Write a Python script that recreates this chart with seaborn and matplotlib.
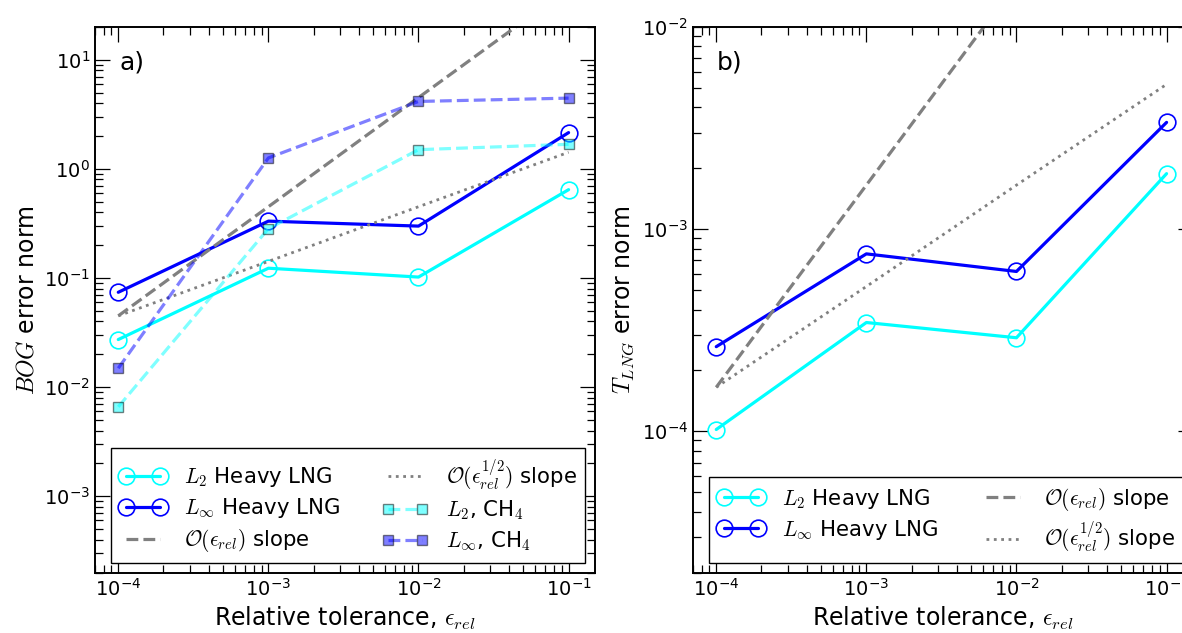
import matplotlib
matplotlib.use("Agg")
import matplotlib.pyplot as plt
import seaborn as sns
from matplotlib.ticker import FuncFormatter, LogLocator, NullFormatter
import numpy as np

# Relative tolerance values used in the convergence study
tolerance = [1e-4, 1e-3, 1e-2, 1e-1]

# Boil-off gas (BOG) error norms
bog_l2_heavy = [0.0273, 0.123, 0.102, 0.645]
bog_linf_heavy = [0.074, 0.332, 0.299, 2.15]
bog_l2_ch4 = [0.0066, 0.283, 1.50, 1.68]
bog_linf_ch4 = [0.0149, 1.26, 4.15, 4.45]
bog_slope_1 = [0.045, 0.45, 4.5, 45.0]
bog_slope_half = [0.045, 0.142, 0.45, 1.42]

# LNG temperature error norms
tlng_l2_heavy = [1.02e-4, 3.45e-4, 2.90e-4, 1.88e-3]
tlng_linf_heavy = [2.62e-4, 7.54e-4, 6.17e-4, 3.37e-3]
tlng_slope_1 = [1.65e-4, 1.65e-3, 1.65e-2, 1.65e-1]
tlng_slope_half = [1.65e-4, 5.2e-4, 1.65e-3, 5.2e-3]

sns.set_theme(style="ticks")
plt.rcParams.update({
    "font.family": ["DejaVu Sans"],
    "mathtext.fontset": "cm",
    "axes.edgecolor": "black",
    "axes.labelcolor": "black",
    "axes.linewidth": 1.4,
    "text.color": "black",
    "xtick.color": "black",
    "ytick.color": "black",
    "xtick.direction": "in",
    "ytick.direction": "in",
    "xtick.top": True,
    "ytick.right": True,
    "xtick.major.size": 10.5,
    "ytick.major.size": 10.5,
    "xtick.minor.size": 5.5,
    "ytick.minor.size": 5.5,
    "xtick.major.width": 0.9,
    "ytick.major.width": 0.9,
    "xtick.minor.width": 0.9,
    "ytick.minor.width": 0.9,
    "xtick.minor.visible": True,
    "ytick.minor.visible": True,
    "xtick.labelsize": 14,
    "ytick.labelsize": 14,
    "axes.labelsize": 17,
    "legend.fontsize": 15.3,
    "legend.fancybox": False,
    "legend.edgecolor": "black",
    "legend.framealpha": 1.0,
    "legend.numpoints": 2,
    "legend.labelspacing": 0.33,
    "legend.handlelength": 2.2,
    "axes.grid": False,
})

fig = plt.figure(figsize=(11.82, 6.33), dpi=100)
ax_a = fig.add_axes([0.0804, 0.0955, 0.423, 0.862])
ax_b = fig.add_axes([0.5863, 0.0955, 0.423, 0.862])


def pow10(v, pos):
    if v <= 0:
        return ""
    e = int(np.round(np.log10(v)))
    return r"$\mathregular{10^{%d}}$" % e


def draw(ax, y, **kw):
    sns.lineplot(x=tolerance, y=y, ax=ax, estimator=None, sort=False, **kw)


heavy_style = dict(lw=2.3, marker="o", ms=12, mfc="none", mew=1.2)
ch4_style = dict(lw=2.3, linestyle="--", marker="s", ms=7.5, mec="black",
                 mew=1.0, alpha=0.5)

for ax in (ax_a, ax_b):
    ax.set_xscale("log")
    ax.set_yscale("log")

# Panel a: BOG
draw(ax_a, bog_l2_heavy, color="cyan", mec="cyan", label=r"$L_2$ Heavy LNG", **heavy_style)
draw(ax_a, bog_linf_heavy, color="blue", mec="blue", label=r"$L_\infty$ Heavy LNG", **heavy_style)
draw(ax_a, bog_slope_1, color="gray", lw=2.3, linestyle="--",
     label=r"$\mathcal{O}(\epsilon_{rel})$ slope")
draw(ax_a, bog_slope_half, color="gray", lw=2.0, linestyle=":",
     label=r"$\mathcal{O}(\epsilon_{rel}^{1/2})$ slope")
draw(ax_a, bog_l2_ch4, color="cyan", mfc="cyan", label=r"$L_2$, CH$_4$", **ch4_style)
draw(ax_a, bog_linf_ch4, color="blue", mfc="blue", label=r"$L_\infty$, CH$_4$", **ch4_style)

ax_a.set_xlim(7e-5, 0.15)
ax_a.set_ylim(2e-4, 20)
ax_a.set_ylabel(r"$BOG$ error norm")
ax_a.legend(loc="lower right", ncol=2, borderaxespad=0.45)
ax_a.text(0.048, 0.935, "a)", transform=ax_a.transAxes, fontsize=18,
          ha="left", va="center")

# Panel b: LNG temperature
draw(ax_b, tlng_l2_heavy, color="cyan", mec="cyan", label=r"$L_2$ Heavy LNG", **heavy_style)
draw(ax_b, tlng_linf_heavy, color="blue", mec="blue", label=r"$L_\infty$ Heavy LNG", **heavy_style)
draw(ax_b, tlng_slope_1, color="gray", lw=2.3, linestyle="--",
     label=r"$\mathcal{O}(\epsilon_{rel})$ slope")
draw(ax_b, tlng_slope_half, color="gray", lw=2.0, linestyle=":",
     label=r"$\mathcal{O}(\epsilon_{rel}^{1/2})$ slope")

ax_b.set_xlim(7e-5, 0.15)
ax_b.set_ylim(2e-5, 1e-2)
ax_b.set_ylabel(r"$T_{LNG}$ error norm")
ax_b.legend(loc="lower right", ncol=2, borderaxespad=0.45)
ax_b.text(0.048, 0.935, "b)", transform=ax_b.transAxes, fontsize=18,
          ha="left", va="center")

for ax in (ax_a, ax_b):
    ax.set_xlabel(r"Relative tolerance, $\epsilon_{rel}$")
    for axis in (ax.xaxis, ax.yaxis):
        axis.set_major_locator(LogLocator(base=10, numticks=20))
        axis.set_minor_locator(LogLocator(base=10, subs=np.arange(2, 10), numticks=20))
        axis.set_major_formatter(FuncFormatter(pow10))
        axis.set_minor_formatter(NullFormatter())
    for s in ax.spines.values():
        s.set_visible(True)

fig.savefig("out.png", dpi=100)
